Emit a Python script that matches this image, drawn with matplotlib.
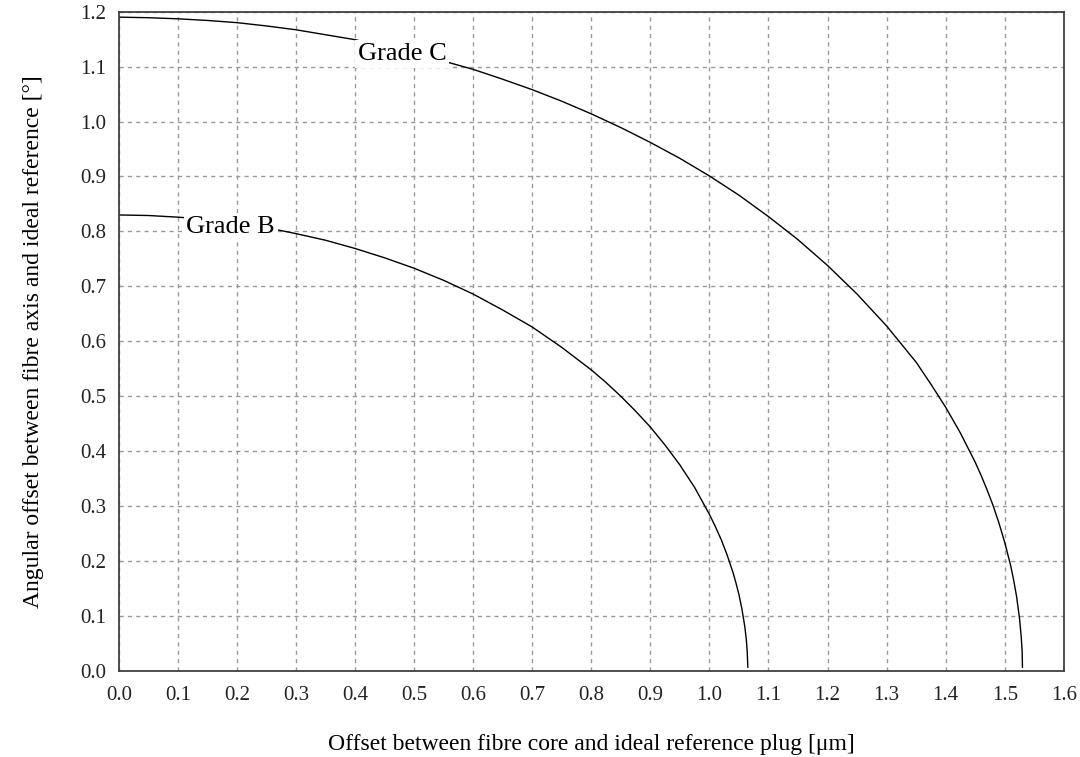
import matplotlib
matplotlib.use('Agg')
import matplotlib.pyplot as plt

plt.rcParams['font.family'] = ['Liberation Serif', 'DejaVu Serif']

# Grade B curve
grade_b_x = [0.0, 0.05, 0.1, 0.15, 0.2, 0.25, 0.3, 0.35, 0.4, 0.45, 0.5,
             0.55, 0.6, 0.65, 0.7, 0.75, 0.8, 0.825, 0.85, 0.875, 0.9,
             0.925, 0.95, 0.975, 1.0, 1.01, 1.02, 1.03, 1.04, 1.045, 1.05,
             1.055, 1.06, 1.0625, 1.064, 1.065]
grade_b_y = [0.830, 0.829, 0.826, 0.822, 0.815, 0.807, 0.796, 0.784, 0.769,
             0.752, 0.733, 0.711, 0.686, 0.657, 0.626, 0.589, 0.548, 0.525,
             0.500, 0.473, 0.444, 0.411, 0.375, 0.334, 0.285, 0.263, 0.239,
             0.211, 0.179, 0.160, 0.139, 0.113, 0.080, 0.057, 0.035, 0.007]

# Grade C curve
grade_c_x = [0.0, 0.05, 0.1, 0.15, 0.2, 0.25, 0.3, 0.35, 0.4, 0.45, 0.5,
             0.55, 0.6, 0.65, 0.7, 0.75, 0.8, 0.85, 0.9, 0.95, 1.0, 1.05,
             1.1, 1.15, 1.2, 1.25, 1.3, 1.325, 1.35, 1.375, 1.4, 1.425,
             1.45, 1.46, 1.47, 1.48, 1.49, 1.50, 1.51, 1.515, 1.52, 1.525,
             1.528, 1.5295, 1.53]
grade_c_y = [1.190, 1.189, 1.187, 1.184, 1.180, 1.174, 1.167, 1.158, 1.149,
             1.137, 1.125, 1.110, 1.095, 1.077, 1.058, 1.037, 1.014, 0.989,
             0.962, 0.933, 0.901, 0.866, 0.827, 0.785, 0.738, 0.686, 0.628,
             0.595, 0.562, 0.522, 0.480, 0.433, 0.380, 0.356, 0.330, 0.302,
             0.270, 0.234, 0.192, 0.166, 0.136, 0.096, 0.061, 0.035, 0.007]

x_ticks = [round(0.1 * i, 1) for i in range(17)]
y_ticks = [round(0.1 * i, 1) for i in range(13)]

fig = plt.figure(figsize=(10.8, 7.57), dpi=100)
ax = fig.add_axes([0.110, 0.1136, 0.875, 0.871])

ax.plot(grade_b_x, grade_b_y, color='black', lw=1.0, zorder=2)
ax.plot(grade_c_x, grade_c_y, color='black', lw=1.0, zorder=2)

box = dict(facecolor='white', edgecolor='none', boxstyle='square,pad=0.1')
ax.text(0.1146, 0.798, 'Grade B', fontsize=19, ha='left', va='baseline',
        bbox=box, zorder=5)
ax.text(0.4047, 1.112, 'Grade C', fontsize=19, ha='left', va='baseline',
        bbox=box, zorder=5)

ax.set_xlim(0, 1.6)
ax.set_ylim(0, 1.2)
ax.set_xticks(x_ticks)
ax.set_yticks(y_ticks)
ax.set_xticklabels(['%.1f' % v for v in x_ticks])
ax.set_yticklabels(['%.1f' % v for v in y_ticks])
ax.tick_params(length=0, labelsize=15, colors='#222222')
ax.tick_params(axis='x', pad=11)
ax.tick_params(axis='y', pad=9)

ax.grid(True, color='#999999', linestyle=(0, (3, 3)), linewidth=1.0)
ax.set_axisbelow(True)
for s in ax.spines.values():
    s.set_color('#404040')
    s.set_linewidth(1.3)

ax.set_xlabel('Offset between fibre core and ideal reference plug [μm]',
              fontsize=17, labelpad=21)
ax.set_ylabel('Angular offset between fibre axis and ideal reference [°]',
              fontsize=17, labelpad=26)

fig.savefig('out.png', dpi=100)
